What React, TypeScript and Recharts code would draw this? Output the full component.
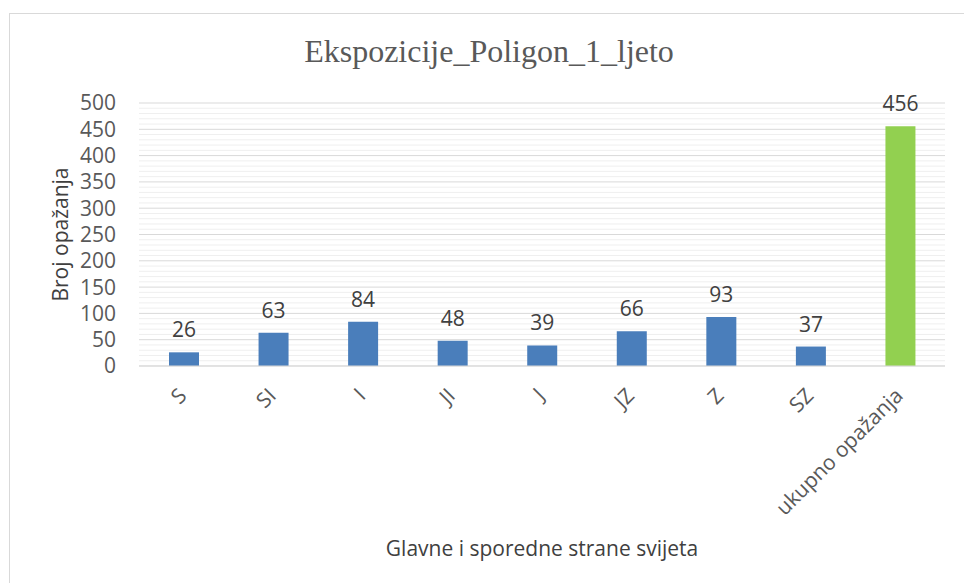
import { BarChart, Bar, XAxis, YAxis, CartesianGrid, LabelList, Cell } from 'recharts';

const categories = ['S', 'SI', 'I', 'JI', 'J', 'JZ', 'Z', 'SZ', 'ukupno opažanja'];
const values = [26, 63, 84, 48, 39, 66, 93, 37, 456];
const barColors = ['#4a7ebb', '#4a7ebb', '#4a7ebb', '#4a7ebb', '#4a7ebb', '#4a7ebb', '#4a7ebb', '#4a7ebb', '#92d050'];
const majorTicks = [0, 50, 100, 150, 200, 250, 300, 350, 400, 450, 500];
const minorTicks = [
  10, 20, 30, 40, 60, 70, 80, 90, 110, 120, 130, 140, 160, 170, 180, 190,
  210, 220, 230, 240, 260, 270, 280, 290, 310, 320, 330, 340, 360, 370, 380, 390,
  410, 420, 430, 440, 460, 470, 480, 490,
];

const chartData = categories.map((name, i) => ({ name, value: values[i] }));

const font = '"Open Sans", sans-serif';

// rotated category labels, ending just under the axis
const RotatedTick = (props: any) => {
  const { x, y, payload } = props;
  return (
    <g transform={`translate(${x + 4},${y + 23})`}>
      <text x={0} y={0} transform="rotate(-45)" textAnchor="end" fill="#595959" fontSize={21} fontFamily={font}>
        {payload.value}
      </text>
    </g>
  );
};

const YTitle = (props: any) => {
  const vb = props.viewBox || {};
  const cx = 60;
  const cy = vb.y + vb.height / 2;
  return (
    <text
      x={cx}
      y={cy}
      transform={`rotate(-90 ${cx} ${cy})`}
      textAnchor="middle"
      dominantBaseline="central"
      fill="#404040"
      fontSize={21}
      fontFamily={font}
    >
      Broj opažanja
    </text>
  );
};

const App = () => {
  return (
    <div style={{ position: 'absolute', left: 0, top: 0, width: 964, height: 583, background: 'white', overflow: 'hidden' }}>
      <div
        style={{
          position: 'absolute',
          left: 9,
          top: 13,
          width: 1000,
          height: 600,
          borderLeft: '1px solid #d9d9d9',
          borderTop: '1px solid #d9d9d9',
        }}
      />
      <div
        style={{
          position: 'absolute',
          left: 0,
          width: 964,
          top: 33,
          textAlign: 'center',
          fontFamily: '"Liberation Serif", "DejaVu Serif", serif',
          fontSize: 32,
          color: '#595959',
          paddingLeft: 14,
          boxSizing: 'border-box',
        }}
      >
        Ekspozicije_Poligon_1_ljeto
      </div>
      <div style={{ position: 'absolute', left: 0, top: 0 }}>
        <BarChart
          width={964}
          height={583}
          data={chartData}
          margin={{ top: 103, right: 19, left: 0, bottom: 0 }}
          barSize={30}
        >
          {/* minor grid every 10 */}
          <CartesianGrid vertical={false} stroke="#efefef" horizontalValues={minorTicks} />
          <CartesianGrid vertical={false} stroke="#d9d9d9" />
          <XAxis
            dataKey="name"
            height={217}
            interval={0}
            tickLine={false}
            axisLine={{ stroke: '#d9d9d9' }}
            tick={<RotatedTick />}
            label={{
              value: 'Glavne i sporedne strane svijeta',
              position: 'insideBottom',
              offset: 27,
              fill: '#404040',
              fontSize: 21,
              fontFamily: font,
            }}
          />
          <YAxis
            width={139}
            domain={[0, 500]}
            ticks={majorTicks}
            interval={0}
            tickLine={false}
            axisLine={false}
            tick={{ fill: '#595959', fontSize: 21, fontFamily: font }}
            tickMargin={17}
            label={<YTitle />}
          />
          <Bar dataKey="value" isAnimationActive={false}>
            {chartData.map((d, i) => (
              <Cell key={d.name} fill={barColors[i]} />
            ))}
            <LabelList dataKey="value" position="top" offset={15} fill="#404040" fontSize={21} fontFamily={font} />
          </Bar>
        </BarChart>
      </div>
    </div>
  );
};

export default App;
